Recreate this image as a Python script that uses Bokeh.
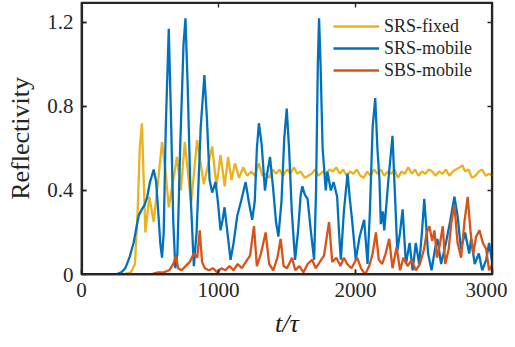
from bokeh.plotting import figure
from bokeh.models import FixedTicker, Range1d, Legend, LegendItem
from bokeh.embed import file_html
from bokeh.resources import INLINE

# ---------------- data ----------------
fixed_t = [0, 300, 360, 390, 410, 425, 441, 466, 495, 527, 560, 588, 612, 637, 670, 697, 725,
           754, 800, 844, 893, 954, 985, 1015, 1045, 1070, 1095, 1120, 1150, 1180,
           1210, 1240, 1265, 1295, 1320, 1345, 1370, 1395, 1420, 1445, 1470, 1500, 1525, 1550,
           1575, 1600, 1630, 1655, 1680, 1705, 1730, 1760, 1785, 1810, 1835, 1860, 1885, 1910,
           1935, 1960, 1985, 2010, 2035, 2060, 2085, 2110, 2135, 2160, 2185, 2210, 2235, 2260,
           2285, 2310, 2335, 2360, 2385, 2410, 2435, 2460, 2485, 2510, 2535, 2560, 2585, 2610,
           2635, 2660, 2685, 2710, 2735, 2760, 2780, 2800, 2825, 2850, 2875, 2900, 2925, 2950,
           2975, 3000]
fixed_r = [0, 0, 0.01, 0.05, 0.30, 0.60, 0.72, 0.20, 0.37, 0.25, 0.45, 0.63, 0.50, 0.32, 0.45, 0.56, 0.40,
           0.63, 0.34, 0.64, 0.43, 0.61, 0.42, 0.57, 0.42, 0.56, 0.45, 0.53, 0.46, 0.51,
           0.47, 0.49, 0.47, 0.53, 0.47, 0.48, 0.46, 0.50, 0.48, 0.50, 0.47, 0.50, 0.48, 0.51,
           0.48, 0.49, 0.46, 0.47, 0.48, 0.50, 0.47, 0.49, 0.48, 0.50, 0.49, 0.51, 0.48, 0.50,
           0.47, 0.49, 0.48, 0.50, 0.47, 0.46, 0.49, 0.47, 0.50, 0.48, 0.50, 0.47, 0.49, 0.48,
           0.50, 0.46, 0.49, 0.48, 0.51, 0.48, 0.50, 0.47, 0.49, 0.48, 0.50, 0.49, 0.47, 0.49,
           0.48, 0.50, 0.47, 0.49, 0.50, 0.51, 0.52, 0.49, 0.50, 0.46, 0.47, 0.49, 0.50, 0.47,
           0.48, 0.47]

mobile_t = [0, 250, 290, 320, 350, 380, 400, 417, 440, 460, 480, 500, 527, 545, 560, 575, 588,
            600, 615, 637, 655, 670, 685, 700, 720, 745, 759, 775, 795, 820, 840, 870, 897, 915,
            935, 954, 978, 995, 1015, 1030, 1044, 1065, 1088, 1110, 1137, 1165, 1198, 1220, 1246,
            1265, 1280, 1295, 1315, 1339, 1355, 1376, 1400, 1420, 1437, 1460, 1480, 1498, 1515,
            1535, 1559, 1580, 1600, 1612, 1630, 1650, 1675, 1698, 1712, 1725, 1734, 1745, 1760,
            1783, 1795, 1820, 1840, 1866, 1880, 1893, 1915, 1942, 1960, 1975, 2002, 2030, 2063,
            2088, 2105, 2125, 2144, 2160, 2175, 2185, 2200, 2210, 2240, 2270, 2290, 2305, 2325,
            2344, 2368, 2395, 2417, 2440, 2465, 2485, 2502, 2530, 2555, 2580, 2598, 2625, 2660,
            2690, 2722, 2745, 2770, 2800, 2830, 2844, 2870, 2900, 2925, 2954, 2975, 3000]
mobile_r = [0, 0, 0.01, 0.03, 0.08, 0.15, 0.22, 0.28, 0.31, 0.33, 0.37, 0.44, 0.50, 0.44, 0.30, 0.15, 0.08,
            0.20, 0.70, 1.17, 0.70, 0.25, 0.03, 0.10, 0.60, 1.10, 1.22, 0.90, 0.40, 0.04, 0.20, 0.70, 0.95, 0.75,
            0.45, 0.39, 0.44, 0.35, 0.21, 0.26, 0.32, 0.20, 0.07, 0.15, 0.28, 0.35, 0.44, 0.35, 0.26,
            0.35, 0.60, 0.72, 0.62, 0.40, 0.48, 0.56, 0.40, 0.25, 0.18, 0.35, 0.65, 0.79, 0.60,
            0.30, 0.07, 0.20, 0.38, 0.42, 0.38, 0.36, 0.20, 0.07, 0.40, 1.00, 1.22, 1.00, 0.60,
            0.40, 0.49, 0.40, 0.44, 0.37, 0.20, 0.07, 0.30, 0.48, 0.35, 0.26, 0.07, 0.18, 0.26,
            0.05, 0.30, 0.70, 0.84, 0.60, 0.45, 0.24, 0.30, 0.21, 0.45, 0.66, 0.35, 0.11, 0.20,
            0.31, 0.05, 0.15, 0.02, 0.15, 0.05, 0.20, 0.36, 0.10, 0.02, 0.12, 0.17, 0.05, 0.15,
            0.25, 0.37, 0.28, 0.12, 0.20, 0.10, 0.17, 0.05, 0.10, 0.02, 0.07, 0.15, 0.05]

sbs_t = [0, 500, 560, 600, 640, 670, 690, 705, 730, 760, 790, 820, 845, 863, 880, 900, 930, 960,
         990, 1020, 1050, 1080, 1110, 1140, 1170, 1200, 1230, 1259, 1280, 1310, 1344, 1370, 1400,
         1430, 1454, 1475, 1500, 1537, 1560, 1590, 1620, 1650, 1683, 1710, 1740, 1770, 1807, 1830,
         1860, 1890, 1915, 1939, 1970, 2012, 2040, 2070, 2100, 2125, 2149, 2170, 2195, 2220, 2246,
         2270, 2300, 2325, 2350, 2380, 2410, 2440, 2470, 2500, 2520, 2539, 2560, 2576, 2595, 2615,
         2637, 2655, 2680, 2700, 2722, 2745, 2771, 2795, 2819, 2840, 2860, 2880, 2905, 2930, 2954,
         2975, 3000]
sbs_r = [0, 0, 0.01, 0.01, 0.02, 0.05, 0.09, 0.03, 0.02, 0.04, 0.06, 0.10, 0.08, 0.21, 0.06, 0.03, 0.02, 0.03,
         0.01, 0.03, 0.02, 0.04, 0.02, 0.05, 0.03, 0.06, 0.09, 0.23, 0.04, 0.10, 0.20, 0.05, 0.02,
         0.08, 0.17, 0.04, 0.03, 0.08, 0.02, 0.04, 0.01, 0.05, 0.07, 0.03, 0.06, 0.09, 0.25, 0.06,
         0.08, 0.04, 0.08, 0.05, 0.03, 0.08, 0.03, 0.00, 0.04, 0.10, 0.20, 0.07, 0.05, 0.10, 0.17,
         0.03, 0.13, 0.02, 0.08, 0.04, 0.07, 0.02, 0.05, 0.12, 0.20, 0.23, 0.16, 0.21, 0.08, 0.14,
         0.23, 0.05, 0.12, 0.25, 0.33, 0.15, 0.08, 0.25, 0.37, 0.20, 0.10, 0.18, 0.21, 0.15, 0.12,
         0.02, 0.05]

x_ticks = [0, 1000, 2000, 3000]
y_ticks = [0, 0.4, 0.8, 1.2]
y_tick_labels = {0: "0", 0.4: "0.4", 0.8: "0.8", 1.2: "1.2"}
series_names = ["SRS-fixed", "SRS-mobile", "SBS-mobile"]
colors = ["#EDB120", "#0072BD", "#D95319"]

FONT = "Liberation Serif"
SMALL_FONT = "serif"
X_START, X_END = 0, 3000
Y_START, Y_END = 0, 1.295
BOX = "#262626"
W, H = 507, 346
BL, BR, BT, BB = 81, 15, 2, 72
TICK_PX = 5
EDGE_PX = 1.6
TICK_W_PX = 1.4
FRAME_W = W - BL - BR
FRAME_H = H - BT - BB
px_x = (X_END - X_START) / FRAME_W   # data units per screen pixel
px_y = (Y_END - Y_START) / FRAME_H

p = figure(width=W, height=H, output_backend="svg", toolbar_location=None,
           x_range=Range1d(X_START, X_END), y_range=Range1d(Y_START, Y_END),
           min_border_left=BL, min_border_right=BR, min_border_top=BT, min_border_bottom=BB)
p.xgrid.visible = False
p.ygrid.visible = False
p.outline_line_color = BOX
p.outline_line_width = 1.5

r1 = p.line(fixed_t, fixed_r, line_color=colors[0], line_width=2.3)
r2 = p.line(mobile_t, mobile_r, line_color=colors[1], line_width=2.3)
r3 = p.line(sbs_t, sbs_r, line_color=colors[2], line_width=2.3)

# frame box as thin filled bands along the range limits
ex, ey = EDGE_PX * px_x, EDGE_PX * px_y
p.quad(left=[X_START, X_START, X_START, X_END - ex],
       right=[X_END, X_END, X_START + ex, X_END],
       bottom=[Y_START, Y_END - ey, Y_START, Y_START],
       top=[Y_START + ey, Y_END, Y_END, Y_END],
       fill_color=BOX, line_color=None)

# inward ticks on all four sides, as thin filled bars at the tick values
hw_x = TICK_W_PX * px_x / 2
hw_y = TICK_W_PX * px_y / 2
tl_x = TICK_PX * px_x
tl_y = TICK_PX * px_y
n_x = len(x_ticks)
n_y = len(y_ticks)
p.quad(left=[t - hw_x for t in x_ticks] * 2,
       right=[t + hw_x for t in x_ticks] * 2,
       bottom=[Y_START] * n_x + [Y_END - tl_y] * n_x,
       top=[Y_START + tl_y] * n_x + [Y_END] * n_x,
       fill_color=BOX, line_color=None)
p.quad(left=[X_START] * n_y + [X_END - tl_x] * n_y,
       right=[X_START + tl_x] * n_y + [X_END] * n_y,
       bottom=[v - hw_y for v in y_ticks] * 2,
       top=[v + hw_y for v in y_ticks] * 2,
       fill_color=BOX, line_color=None)

def style_axis(ax):
    ax.axis_line_color = BOX
    ax.axis_line_width = 1.5
    ax.major_tick_in = TICK_PX
    ax.major_tick_out = 0
    ax.major_tick_line_color = BOX
    ax.major_tick_line_width = 1.5
    ax.minor_tick_line_color = None
    ax.major_label_text_font = SMALL_FONT
    ax.major_label_text_font_size = "21px"
    ax.major_label_text_color = "#262626"

xa = p.xaxis[0]
xa.ticker = FixedTicker(ticks=x_ticks)
style_axis(xa)
xa.major_label_standoff = 8
xa.axis_label = "t/τ"
xa.axis_label_text_font = FONT
xa.axis_label_text_font_style = "italic"
xa.axis_label_text_font_size = "26px"
xa.axis_label_text_color = "#1a1a1a"
xa.axis_label_standoff = 9

ya = p.yaxis[0]
ya.ticker = FixedTicker(ticks=y_ticks)
ya.major_label_overrides = y_tick_labels
style_axis(ya)
ya.major_label_standoff = 8
ya.axis_label = "Reflectivity"
ya.axis_label_text_font = FONT
ya.axis_label_text_font_style = "normal"
ya.axis_label_text_font_size = "26px"
ya.axis_label_text_color = "#262626"
ya.axis_label_standoff = 9

legend = Legend(items=[LegendItem(label=series_names[0], renderers=[r1]),
                       LegendItem(label=series_names[1], renderers=[r2]),
                       LegendItem(label=series_names[2], renderers=[r3])],
                location=(252, 193))
legend.border_line_color = None
legend.background_fill_alpha = 0
legend.padding = 0
legend.margin = 0
legend.spacing = 0
legend.label_height = 22
legend.glyph_height = 22
legend.glyph_width = 46
legend.label_standoff = 5
legend.label_text_font = SMALL_FONT
legend.label_text_font_size = "18px"
legend.label_text_color = "#262626"
p.add_layout(legend, "center")

open("out.html", "w").write(file_html(p, INLINE))
